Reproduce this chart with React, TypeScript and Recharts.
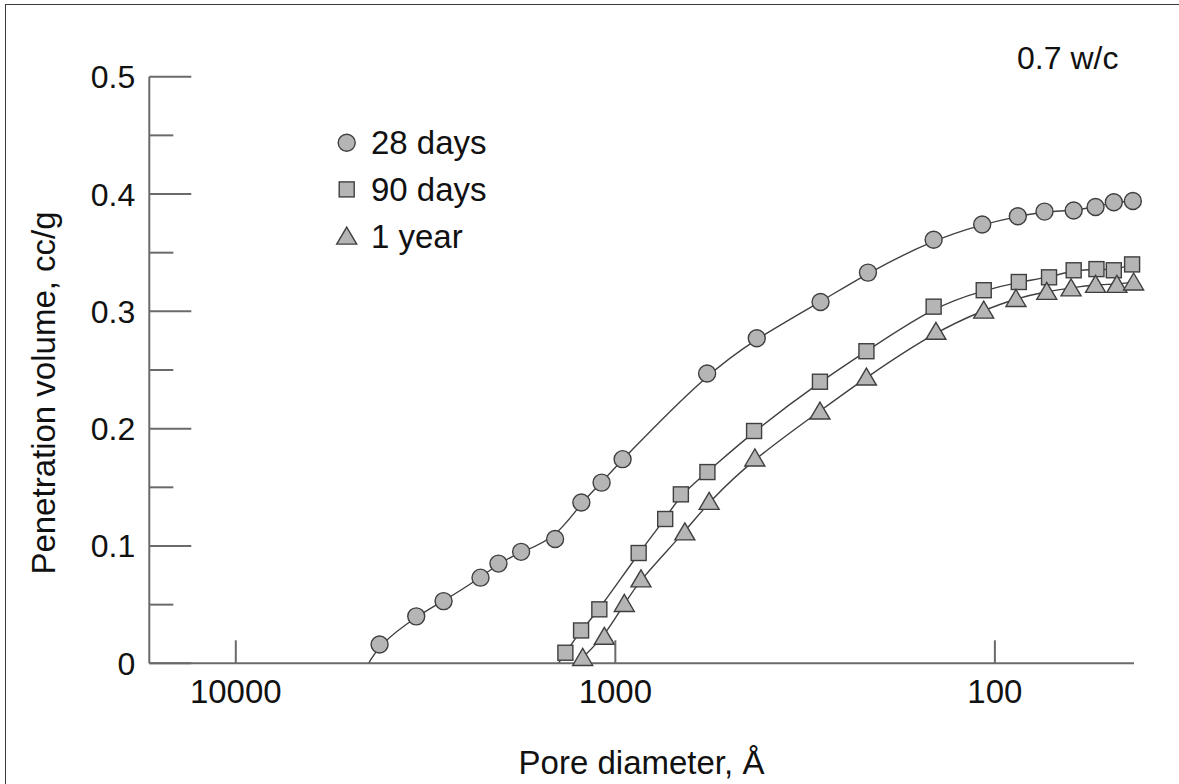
import React from "react";
import { ComposedChart, XAxis, YAxis, Line, Scatter, Legend } from "recharts";

// ---- data (pore diameter in Å, penetration volume in cc/g) ----
const d28 = [4180, 3346, 2835, 2266, 2032, 1771, 1441, 1229, 1087, 957, 573, 424, 288, 216, 145, 108, 87, 74, 62, 54.3, 48.6, 43.3];
const v28 = [0.016, 0.040, 0.053, 0.073, 0.085, 0.095, 0.106, 0.137, 0.154, 0.174, 0.247, 0.277, 0.308, 0.333, 0.361, 0.374, 0.381, 0.385, 0.386, 0.389, 0.393, 0.394];

const d90 = [1354, 1231, 1102, 868, 739, 672, 572, 431, 289, 218, 145, 107, 86.5, 72, 62, 54, 48.6, 43.5];
const v90 = [0.009, 0.028, 0.046, 0.094, 0.123, 0.144, 0.163, 0.198, 0.240, 0.266, 0.304, 0.318, 0.325, 0.329, 0.335, 0.336, 0.335, 0.340];

const d1y = [1219, 1069, 947, 856, 656, 566, 429, 289, 218, 143, 107, 88, 73, 63, 54.3, 47.7, 43.1];
const v1y = [0.005, 0.023, 0.051, 0.072, 0.112, 0.138, 0.175, 0.215, 0.244, 0.283, 0.301, 0.311, 0.317, 0.320, 0.323, 0.323, 0.325];

// where each fitted curve meets the x axis
const curveStart28 = { d: 4467, v: 0 };
const curveStart90 = { d: 1413, v: 0 };
const curveStart1y = { d: 1266, v: 0 };

const seriesNames = ["28 days", "90 days", "1 year"];
const xTicks = [10000, 1000, 100];
const yTicks = [0, 0.05, 0.1, 0.15, 0.2, 0.25, 0.3, 0.35, 0.4, 0.45, 0.5];
const xDomain = [43, 16900];
const yDomain = [0, 0.5];
const annotation = "0.7 w/c";
const xTitle = "Pore diameter, Å";
const yTitle = "Penetration volume, cc/g";

const zip = (ds: number[], vs: number[]) => ds.map((d, i) => ({ d, v: vs[i] }));
const pts28 = zip(d28, v28);
const pts90 = zip(d90, v90);
const pts1y = zip(d1y, v1y);
const line28 = [curveStart28, ...pts28];
const line90 = [curveStart90, ...pts90];
const line1y = [curveStart1y, ...pts1y];

const FONT = "'Liberation Sans', Arial, Helvetica, sans-serif";
const FS = 33;
const AXIS = "#6a6a6a";
const FILL = "#b5b5b5";
const EDGE = "#3f3f3f";
const LINE = "#404040";

const Circle = (p: any) => (
  <circle cx={p.cx} cy={p.cy} r={8.5} fill={FILL} stroke={EDGE} strokeWidth={1.4} />
);
const Square = (p: any) => (
  <rect x={p.cx - 7.5} y={p.cy - 7.5} width={15} height={15} fill={FILL} stroke={EDGE} strokeWidth={1.4} />
);
const Triangle = (p: any) => (
  <polygon
    points={`${p.cx},${p.cy - 9} ${p.cx - 10},${p.cy + 8} ${p.cx + 10},${p.cy + 8}`}
    fill={FILL}
    stroke={EDGE}
    strokeWidth={1.4}
    strokeLinejoin="miter"
  />
);

const XTick = (props: any) => {
  const { x, y, payload } = props;
  return (
    <g>
      <line x1={x} y1={y} x2={x} y2={y - 23} stroke={AXIS} strokeWidth={2} />
      <text x={x} y={y + 40} textAnchor="middle" fontSize={FS} fontFamily={FONT} fill="#111">
        {payload.value}
      </text>
    </g>
  );
};

const YTick = (props: any) => {
  const { x, y, payload } = props;
  const v = payload.value;
  const major = Math.abs(v * 10 - Math.round(v * 10)) < 1e-6;
  const len = major ? 42 : 24;
  return (
    <g>
      <line x1={x} y1={y} x2={x + len} y2={y} stroke={AXIS} strokeWidth={2} />
      {major && (
        <text x={x - 14} y={y + 11.5} textAnchor="end" fontSize={32} fontFamily={FONT} fill="#111">
          {v === 0 ? "0" : v.toFixed(1)}
        </text>
      )}
    </g>
  );
};

const shapes = [Circle, Square, Triangle];

const LegendContent = () => (
  <svg width={220} height={140} style={{ overflow: "visible" }}>
    {seriesNames.map((name, i) => {
      const cy = 22.7 + i * 46.7;
      const S = shapes[i];
      return (
        <g key={name}>
          <S cx={16.7} cy={cy} />
          <text x={41} y={cy + 11.5} fontSize={FS} fontFamily={FONT} fill="#111">
            {name}
          </text>
        </g>
      );
    })}
  </svg>
);

export default function App() {
  return (
    <div
      style={{
        position: "absolute",
        left: 0,
        top: 0,
        width: 1179,
        height: 784,
        overflow: "hidden",
        background: "#fff",
      }}
    >
      <div
        style={{
          position: "absolute",
          left: 5,
          top: 4,
          width: 1400,
          height: 1000,
          border: "1.6px solid #3a3a3a",
        }}
      />
      <div style={{ position: "absolute", left: 0, top: 0 }}>
        <ComposedChart
          width={1179}
          height={784}
          margin={{ top: 76.7, right: 45, bottom: 90.7, left: 89.3 }}
        >
          <XAxis
            type="number"
            dataKey="d"
            scale="log"
            domain={xDomain}
            reversed
            ticks={xTicks}
            interval={0}
            height={30}
            tickSize={0}
            tickMargin={0}
            tickLine={false}
            tick={<XTick />}
            axisLine={{ stroke: AXIS, strokeWidth: 2 }}
            label={{
              content: () => (
                <text x={641.5} y={774} textAnchor="middle" fontSize={FS} fontFamily={FONT} fill="#111">
                  {xTitle}
                </text>
              ),
            }}
          />
          <YAxis
            type="number"
            dataKey="v"
            domain={yDomain}
            ticks={yTicks}
            interval={0}
            width={60}
            tickSize={0}
            tickMargin={0}
            tickLine={false}
            tick={<YTick />}
            axisLine={{ stroke: AXIS, strokeWidth: 2 }}
            label={{
              content: () => (
                <text
                  x={55}
                  y={393}
                  transform="rotate(-90 55 393)"
                  textAnchor="middle"
                  fontSize={FS}
                  fontFamily={FONT}
                  fill="#111"
                >
                  {yTitle}
                </text>
              ),
            }}
          />
          <Line data={line28} dataKey="v" type="basis" stroke={LINE} strokeWidth={1.4} dot={false} isAnimationActive={false} legendType="none" />
          <Line data={line90} dataKey="v" type="basis" stroke={LINE} strokeWidth={1.4} dot={false} isAnimationActive={false} legendType="none" />
          <Line data={line1y} dataKey="v" type="basis" stroke={LINE} strokeWidth={1.4} dot={false} isAnimationActive={false} legendType="none" />
          <Scatter name={seriesNames[0]} data={pts28} dataKey="v" shape={Circle} isAnimationActive={false} />
          <Scatter name={seriesNames[1]} data={pts90} dataKey="v" shape={Square} isAnimationActive={false} />
          <Scatter name={seriesNames[2]} data={pts1y} dataKey="v" shape={Triangle} isAnimationActive={false} />
          <Legend
            layout="vertical"
            align="center"
            verticalAlign="middle"
            content={<LegendContent />}
            wrapperStyle={{ position: "absolute", left: 330, top: 120, width: 220, height: 140 }}
          />
        </ComposedChart>
      </div>
      <div
        style={{
          position: "absolute",
          left: 1017,
          top: 40,
          fontSize: 32,
          fontFamily: FONT,
          color: "#111",
          lineHeight: "36px",
          whiteSpace: "nowrap",
        }}
      >
        {annotation}
      </div>
    </div>
  );
}
